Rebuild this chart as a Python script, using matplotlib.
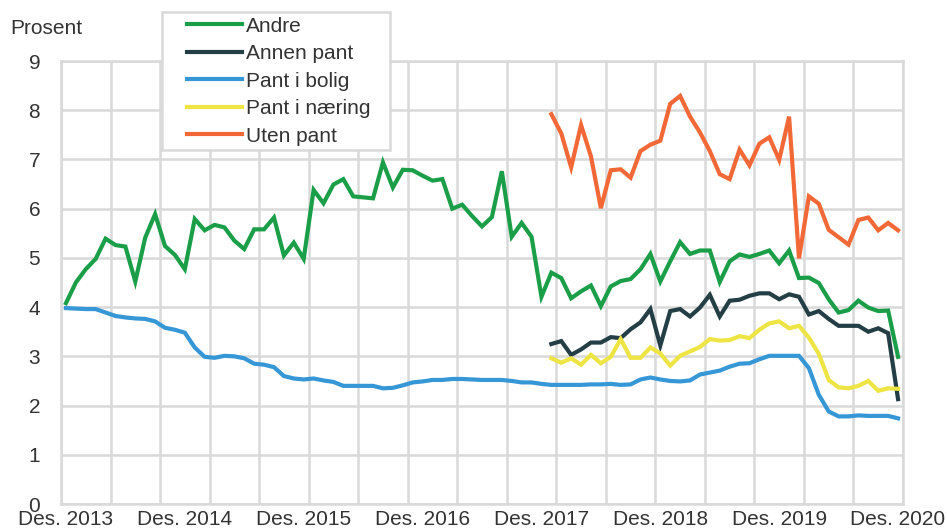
import matplotlib
matplotlib.use("Agg")
import matplotlib.pyplot as plt
from matplotlib.patches import Rectangle

plt.rcParams["font.family"] = ["Liberation Sans", "DejaVu Sans"]

# måned 0 = des. 2013, måned 84 = des. 2020
tick_pos = [0, 12, 24, 36, 48, 60, 72, 84]
tick_labels = ["Des. 2013", "Des. 2014", "Des. 2015", "Des. 2016",
               "Des. 2017", "Des. 2018", "Des. 2019", "Des. 2020"]

andre = [4.08, 4.5, 4.77, 4.98, 5.39, 5.26, 5.23, 4.52, 5.41, 5.89,
         5.24, 5.06, 4.77, 5.79, 5.56, 5.67, 5.62, 5.35, 5.18, 5.58,
         5.58, 5.82, 5.05, 5.31, 4.98, 6.38, 6.11, 6.49, 6.6, 6.25,
         6.23, 6.21, 6.94, 6.43, 6.79, 6.78, 6.67, 6.57, 6.6, 6.0,
         6.08, 5.85, 5.64, 5.83, 6.76, 5.43, 5.71, 5.43, 4.21, 4.7,
         4.59, 4.18, 4.32, 4.44, 4.02, 4.42, 4.53, 4.57, 4.77, 5.08,
         4.52, 4.93, 5.32, 5.08, 5.15, 5.15, 4.51, 4.93, 5.07, 5.02,
         5.08, 5.15, 4.89, 5.15, 4.59, 4.6, 4.49, 4.16, 3.89, 3.94,
         4.13, 3.99, 3.92, 3.93, 2.99]

pant_bolig = [3.98, 3.97, 3.96, 3.96, 3.89, 3.82, 3.79, 3.77, 3.76, 3.71,
              3.58, 3.54, 3.48, 3.18, 2.99, 2.97, 3.01, 3.0, 2.96, 2.85,
              2.83, 2.78, 2.6, 2.55, 2.53, 2.55, 2.51, 2.48, 2.4, 2.4,
              2.4, 2.4, 2.35, 2.36, 2.41, 2.47, 2.49, 2.52, 2.52, 2.54,
              2.54, 2.53, 2.52, 2.52, 2.52, 2.5, 2.47, 2.47, 2.44, 2.42,
              2.42, 2.42, 2.42, 2.43, 2.43, 2.44, 2.42, 2.43, 2.53, 2.57,
              2.53, 2.5, 2.49, 2.51, 2.63, 2.67, 2.71, 2.79, 2.85, 2.86,
              2.94, 3.01, 3.01, 3.01, 3.01, 2.76, 2.22, 1.88, 1.78, 1.78,
              1.8, 1.79, 1.79, 1.79, 1.74]

# disse seriene starter i januar 2018 (måned 49)
start_2018 = 49
annen_pant = [3.25, 3.31, 3.03, 3.14, 3.28, 3.28, 3.39, 3.37, 3.55, 3.69,
              3.96, 3.22, 3.92, 3.96, 3.81, 3.99, 4.25, 3.81, 4.13, 4.15,
              4.23, 4.28, 4.28, 4.16, 4.26, 4.21, 3.85, 3.92, 3.76, 3.62,
              3.62, 3.62, 3.5, 3.57, 3.47, 2.13]
pant_naering = [2.96, 2.87, 2.96, 2.83, 3.03, 2.86, 2.99, 3.35, 2.97, 2.97,
                3.18, 3.06, 2.81, 3.01, 3.1, 3.19, 3.35, 3.32, 3.33, 3.41,
                3.37, 3.54, 3.67, 3.71, 3.57, 3.62, 3.38, 3.05, 2.52, 2.37,
                2.35, 2.4, 2.5, 2.3, 2.35, 2.34]
uten_pant = [7.92, 7.53, 6.84, 7.7, 7.06, 6.01, 6.78, 6.8, 6.63, 7.17,
             7.3, 7.38, 8.13, 8.29, 7.87, 7.55, 7.17, 6.7, 6.6, 7.2,
             6.88, 7.32, 7.45, 6.99, 7.87, 4.99, 6.25, 6.1, 5.57, 5.42,
             5.27, 5.77, 5.82, 5.56, 5.71, 5.56]

series = [
    ("Andre", andre, 0, "#1a9e48"),
    ("Annen pant", annen_pant, start_2018, "#233f45"),
    ("Pant i bolig", pant_bolig, 0, "#3597d6"),
    ("Pant i næring", pant_naering, start_2018, "#eee443"),
    ("Uten pant", uten_pant, start_2018, "#f26836"),
]

txt = "#333333"
grid_c = "#d9d9d9"
fs = 15

fig = plt.figure(figsize=(9.47, 5.28), dpi=100)
ax = fig.add_axes([61 / 947, 1 - 504 / 528, 842 / 947, 443 / 528])

for name, vals, start, col in series:
    x = list(range(start, start + len(vals)))
    ax.plot(x, vals, color=col, lw=3, label=name, solid_joinstyle="miter")

ax.set_xlim(-0.5, 84.5)
ax.set_ylim(0, 9)
ax.set_yticks(range(10))
ax.set_xticks(tick_pos)
ax.set_xticklabels(tick_labels)
ax.set_xticks([-0.5 + 5 * k for k in range(18)], minor=True)
ax.grid(False)
ax.grid(True, axis="y", which="major", color=grid_c, lw=1.8)
ax.grid(True, axis="x", which="minor", color=grid_c, lw=1.8)
ax.set_axisbelow(True)
for s in ax.spines.values():
    s.set_color(grid_c)
    s.set_linewidth(1.8)
ax.tick_params(axis="both", which="both", length=0, labelsize=fs, colors=txt)
ax.tick_params(axis="y", pad=15)
ax.tick_params(axis="x", pad=4)

fig.text(10 / 947, 1 - 28 / 528, "Prosent", fontsize=fs, color=txt, va="center", ha="left")

# legend-ramme i figurkoordinater
fig.patches.append(Rectangle((162 / 947, 1 - 150 / 528), 228 / 947, 138 / 528,
                             transform=fig.transFigure, facecolor="white",
                             edgecolor=grid_c, lw=1.8, zorder=5))
leg = fig.legend(loc="upper left", bbox_to_anchor=(187 / 947, 1 - 16.5 / 528),
                 frameon=False, fontsize=fs, handlelength=2.64, handletextpad=0.2,
                 labelspacing=0.41, borderpad=0, borderaxespad=0)
for t in leg.get_texts():
    t.set_color(txt)
leg.set_zorder(6)

fig.savefig("out.png", dpi=100)
